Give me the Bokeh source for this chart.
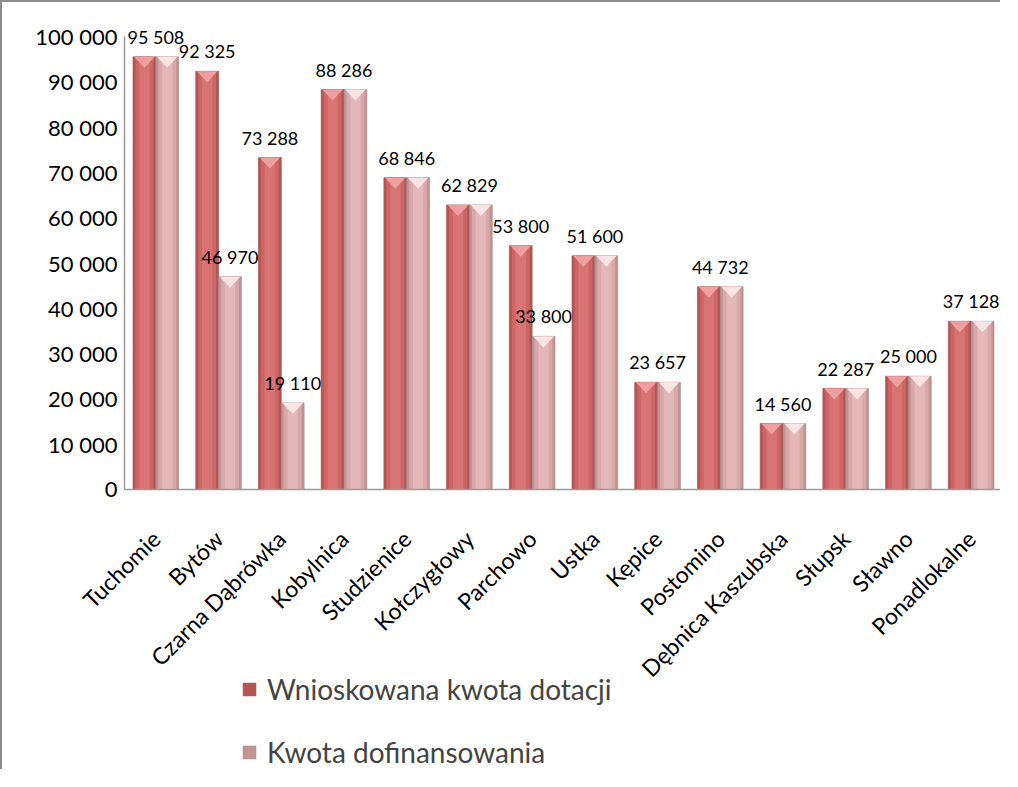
import math
from bokeh.plotting import figure
from bokeh.models import Range1d, Legend, LegendItem, ColumnDataSource
from bokeh.core.properties import value
from bokeh.embed import file_html
from bokeh.resources import INLINE

categories = ["Tuchomie", "Bytów", "Czarna Dąbrówka", "Kobylnica", "Studzienice",
              "Kołczygłowy", "Parchowo", "Ustka", "Kępice", "Postomino",
              "Dębnica Kaszubska", "Słupsk", "Sławno", "Ponadlokalne"]
requested = [95508, 92325, 73288, 88286, 68846, 62829, 53800, 51600, 23657, 44732,
             14560, 22287, 25000, 37128]
granted = [95508, 46970, 19110, 88286, 68846, 62829, 33800, 51600, 23657, 44732,
           14560, 22287, 25000, 37128]
y_ticks = list(range(0, 100001, 10000))
series_names = ["Wnioskowana kwota dotacji", "Kwota dofinansowania"]

FONT = "Lato"


def fmt(v):
    return f"{v:,}".replace(",", " ")


W, H = 1000, 769
zero_px = 487            # canvas y of value 0
px_per_unit = 453.0 / 100000
y_end = zero_px / px_per_unit
y_start = -(H - zero_px) / px_per_unit

area_left = 122          # canvas x where the category area starts
cw = (W - area_left) / len(categories)
x_start = -0.5 - area_left / cw
x_end = len(categories) - 0.5

p = figure(width=W, height=H, output_backend="svg", toolbar_location=None,
           x_range=Range1d(x_start, x_end), y_range=Range1d(y_start, y_end),
           min_border=0, x_axis_location=None, y_axis_location=None)
p.styles = {"border-left": "2px solid #8c8c8c", "border-top": "2px solid #8c8c8c"}
p.outline_line_color = None
p.grid.visible = False
p.background_fill_color = "white"

xs = list(range(len(categories)))
bw = 0.364
src = ColumnDataSource(dict(
    xr=[x - bw / 2 for x in xs],
    xp=[x + bw / 2 for x in xs],
    r=requested,
    g=granted,
))

# red bars (layered for a cylinder-like shading)
r_outer = p.vbar(x="xr", top="r", width=bw, bottom=0, source=src,
                 fill_color="#b35656", line_color="#9c4a4a", line_width=0.6)
p.vbar(x="xr", top="r", width=bw * 0.78, bottom=0, source=src,
       fill_color="#cd6565", line_color=None)
p.vbar(x="xr", top="r", width=bw * 0.45, bottom=0, source=src,
       fill_color="#d97474", line_color=None)
# pink bars
g_outer = p.vbar(x="xp", top="g", width=bw, bottom=0, source=src,
                 fill_color="#c29595", line_color="#a88080", line_width=0.6)
p.vbar(x="xp", top="g", width=bw * 0.78, bottom=0, source=src,
       fill_color="#d8a8a8", line_color=None)
p.vbar(x="xp", top="g", width=bw * 0.45, bottom=0, source=src,
       fill_color="#e4b8b8", line_color=None)

# light bevel chevrons at the bar tops
cap_h = 11 / px_per_unit


def chevrons(centers, tops):
    xs_, ys_ = [], []
    for c, t in zip(centers, tops):
        xs_.append([c - bw / 2 * 0.9, c + bw / 2 * 0.9, c])
        ys_.append([t, t, t - cap_h])
    return xs_, ys_


cx, cy = chevrons(src.data["xr"], requested)
p.patches(xs=cx, ys=cy, fill_color="#eea0a0", line_color=None)
cx, cy = chevrons(src.data["xp"], granted)
p.patches(xs=cx, ys=cy, fill_color="#fae4e4", line_color=None)

# axis lines
p.segment(x0=[-0.5], y0=[0], x1=[-0.5], y1=[y_ticks[-1]], line_color="#9a9a9a", line_width=1.5)
p.segment(x0=[-0.5], y0=[0], x1=[x_end], y1=[0], line_color="#9a9a9a", line_width=1.5)

# y tick labels
p.text(x=[-0.5] * len(y_ticks), y=y_ticks, text=[fmt(t) for t in y_ticks],
       text_align="right", text_baseline="middle", x_offset=-7,
       text_font=value(FONT), text_font_size="22px", text_color="#000000")

# category labels (rotated 45 degrees)
p.text(x=xs, y=[0] * len(xs), text=categories, angle=math.pi / 4,
       text_align="right", text_baseline="middle", x_offset=0, y_offset=45,
       text_font=value(FONT), text_font_size="23px", text_color="#000000")

# value labels
lx, ly, lt = [], [], []
for i, (a, b) in enumerate(zip(requested, granted)):
    if a == b:
        lx.append(i); ly.append(a); lt.append(fmt(a))
    else:
        lx.append(i - bw / 2); ly.append(a); lt.append(fmt(a))
        lx.append(i + bw / 2); ly.append(b); lt.append(fmt(b))
p.text(x=lx, y=ly, text=lt, text_align="center", text_baseline="bottom", y_offset=-9,
       text_font=value(FONT), text_font_size="18px", text_color="#000000")

legend = Legend(items=[LegendItem(label=series_names[0], renderers=[r_outer]),
                       LegendItem(label=series_names[1], renderers=[g_outer])],
                location=(239, 2), orientation="vertical",
                label_text_font=FONT, label_text_font_size="28px",
                glyph_width=16, glyph_height=16, label_standoff=10,
                spacing=29, padding=0, margin=0, border_line_color=None,
                background_fill_alpha=0)
p.add_layout(legend, "center")

open("out.html", "w").write(file_html(p, INLINE))
